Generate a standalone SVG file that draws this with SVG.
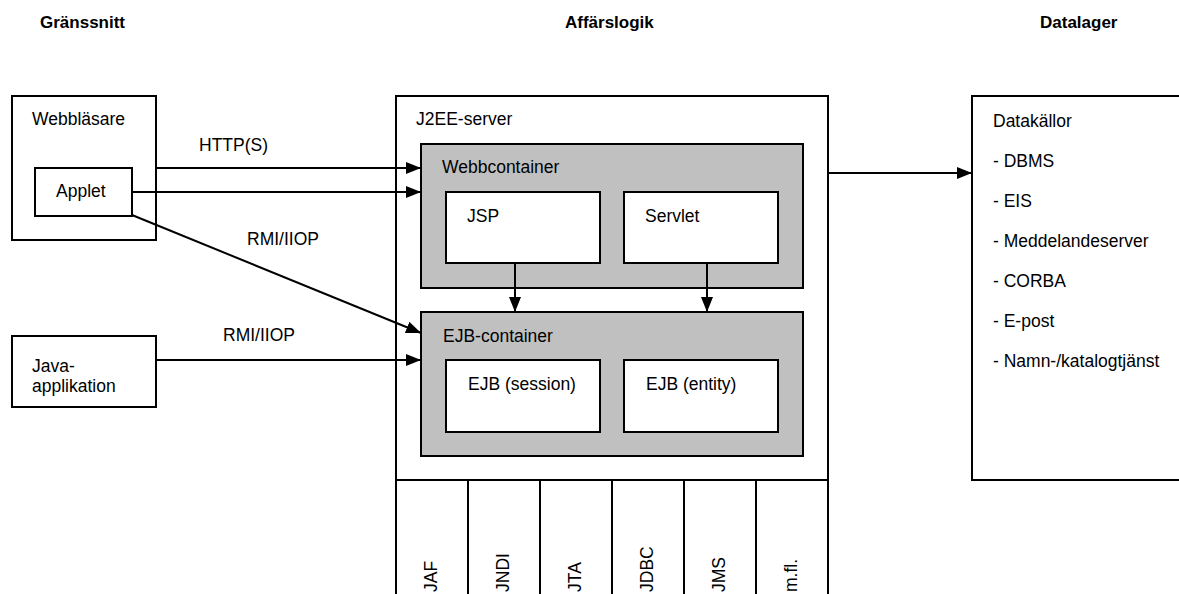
<svg xmlns="http://www.w3.org/2000/svg" width="1179" height="594" viewBox="0 0 1179 594">
<style>
  .box { fill: #fff; stroke: #000; stroke-width: 2; }
  .gray { fill: #c0c0c0; stroke: #000; stroke-width: 2; }
  .ln { stroke: #000; stroke-width: 2; fill: none; }
  .t { font-family: "Liberation Sans", Arial, sans-serif; font-size: 17.5px; fill: #000; }
  .h { font-family: "Liberation Sans", Arial, sans-serif; font-size: 17px; font-weight: bold; fill: #000; }
</style>
<defs>
  <marker id="arr" markerUnits="userSpaceOnUse" markerWidth="16" markerHeight="14" refX="15" refY="6" orient="auto">
    <path d="M0,0 L15,6 L0,12 Z" fill="#000"/>
  </marker>
</defs>
<rect width="1179" height="594" fill="#fff"/>

<g id="headings">
  <text class="h" x="40" y="28">Gränssnitt</text>
  <text class="h" x="565" y="28">Affärslogik</text>
  <text class="h" x="1040" y="28">Datalager</text>
</g>

<g id="webblasare">
  <rect class="box" x="12" y="96" width="144" height="144"/>
  <text class="t" x="32" y="125">Webbläsare</text>
</g>
<g id="applet">
  <rect class="box" x="35" y="168" width="97" height="48"/>
  <text class="t" x="56" y="197">Applet</text>
</g>
<g id="java-applikation">
  <rect class="box" x="12" y="336" width="144" height="71"/>
  <text class="t" x="32" y="372">Java-</text>
  <text class="t" x="32" y="392">applikation</text>
</g>

<g id="j2ee-server">
  <rect class="box" x="396" y="96" width="432" height="510"/>
  <text class="t" x="416" y="125">J2EE-server</text>
  <line class="ln" x1="396" y1="480" x2="828" y2="480"/>
  <line class="ln" x1="468" y1="480" x2="468" y2="600"/>
  <line class="ln" x1="540" y1="480" x2="540" y2="600"/>
  <line class="ln" x1="612" y1="480" x2="612" y2="600"/>
  <line class="ln" x1="684" y1="480" x2="684" y2="600"/>
  <line class="ln" x1="756" y1="480" x2="756" y2="600"/>
  <text class="t" transform="translate(437,592) rotate(-90)">JAF</text>
  <text class="t" transform="translate(509,592) rotate(-90)">JNDI</text>
  <text class="t" transform="translate(581,592) rotate(-90)">JTA</text>
  <text class="t" transform="translate(653,592) rotate(-90)">JDBC</text>
  <text class="t" transform="translate(725,592) rotate(-90)">JMS</text>
  <text class="t" transform="translate(797,592) rotate(-90)">m.fl.</text>
</g>

<g id="webbcontainer">
  <rect class="gray" x="421" y="144" width="382" height="144"/>
  <text class="t" x="442" y="173">Webbcontainer</text>
</g>
<g id="jsp">
  <rect class="box" x="446" y="192" width="154" height="71"/>
  <text class="t" x="467" y="222">JSP</text>
</g>
<g id="servlet">
  <rect class="box" x="624" y="192" width="154" height="71"/>
  <text class="t" x="645" y="222">Servlet</text>
</g>

<g id="ejb-container">
  <rect class="gray" x="421" y="312" width="382" height="144"/>
  <text class="t" x="443" y="342">EJB-container</text>
</g>
<g id="ejb-session">
  <rect class="box" x="446" y="360" width="154" height="72"/>
  <text class="t" x="468" y="390">EJB (session)</text>
</g>
<g id="ejb-entity">
  <rect class="box" x="624" y="360" width="154" height="72"/>
  <text class="t" x="646" y="390">EJB (entity)</text>
</g>

<g id="datakallor">
  <rect class="box" x="972" y="96" width="220" height="384"/>
  <text class="t" x="993" y="127">Datakällor</text>
  <text class="t" x="993" y="167">- DBMS</text>
  <text class="t" x="993" y="207">- EIS</text>
  <text class="t" x="993" y="247">- Meddelandeserver</text>
  <text class="t" x="993" y="287">- CORBA</text>
  <text class="t" x="993" y="327">- E-post</text>
  <text class="t" x="993" y="367">- Namn-/katalogtjänst</text>
</g>

<g id="connectors">
  <line class="ln" x1="156" y1="168" x2="421" y2="168" marker-end="url(#arr)"/>
  <line class="ln" x1="132" y1="192" x2="421" y2="192" marker-end="url(#arr)"/>
  <line class="ln" x1="132" y1="215" x2="421" y2="333" marker-end="url(#arr)"/>
  <line class="ln" x1="156" y1="360" x2="421" y2="360" marker-end="url(#arr)"/>
  <line class="ln" x1="828" y1="173" x2="972" y2="173" marker-end="url(#arr)"/>
  <line class="ln" x1="515" y1="263" x2="515" y2="312" marker-end="url(#arr)"/>
  <line class="ln" x1="707" y1="263" x2="707" y2="312" marker-end="url(#arr)"/>
  <text class="t" x="199" y="151">HTTP(S)</text>
  <text class="t" x="247" y="245">RMI/IIOP</text>
  <text class="t" x="223" y="341">RMI/IIOP</text>
</g>
</svg>
